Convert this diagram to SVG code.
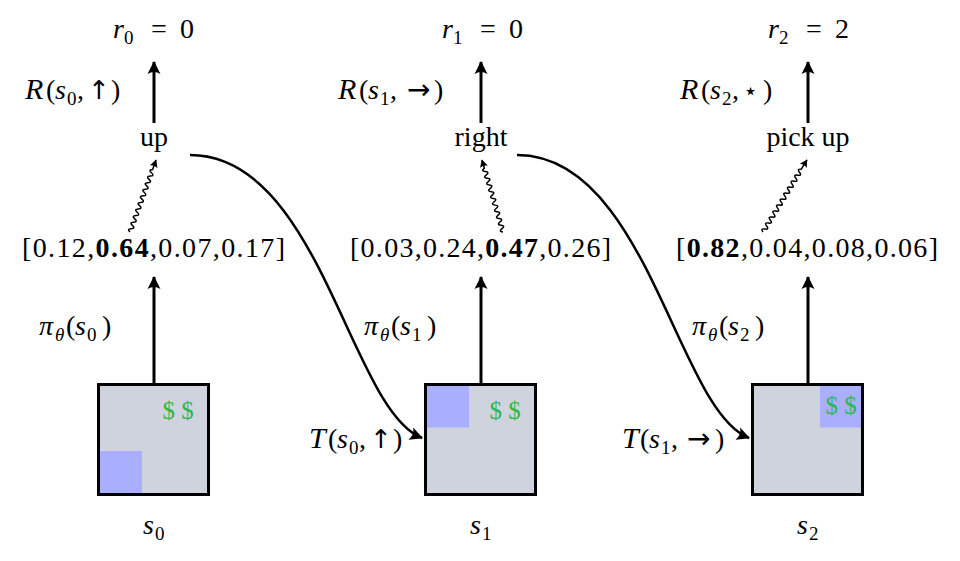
<svg xmlns="http://www.w3.org/2000/svg" width="960" height="561" viewBox="0 0 960 561">
<style>
text{font-family:"Liberation Serif","DejaVu Serif",serif;font-size:28px;fill:#000}
.it{font-style:italic}
.cal{font-style:italic;font-size:30px}
.b{font-weight:bold}
.sub{font-size:19px}
.sym{font-family:"DejaVu Sans",sans-serif;font-size:26px}
.rar{font-family:"DejaVu Sans",sans-serif;font-size:28px}
.star{font-family:"DejaVu Sans",sans-serif;font-size:24px}
.dol{font-size:25px;fill:#2cb84a}
.box{fill:#cfd3de;stroke:none}
.frame{fill:none;stroke:#000;stroke-width:3}
.agent{fill:#a9aefe}
.arr{fill:none;stroke:#000;stroke-width:3;marker-end:url(#ah)}
.curve{fill:none;stroke:#000;stroke-width:2.5;marker-end:url(#ah)}
.snake{fill:none;stroke:#000;stroke-width:1.5;marker-end:url(#sh)}
</style>
<defs>
<marker id="ah" markerUnits="userSpaceOnUse" viewBox="-14 -7 16 14" refX="0" refY="0" markerWidth="16" markerHeight="14" orient="auto">
<path d="M1,0 L-12,-6.5 Q-8,0 -12,6.5 Z" fill="#000"/>
</marker>
<marker id="sh" markerUnits="userSpaceOnUse" viewBox="-9 -5 10 10" refX="0" refY="0" markerWidth="10" markerHeight="10" orient="auto">
<path d="M0.5,0 L-7,-4 Q-5,0 -7,4 Z" fill="#000"/>
</marker>
</defs>

<g id="connectors">
<line class="arr" x1="154" y1="383" x2="154" y2="277"/>
<line class="arr" x1="154" y1="123" x2="154" y2="62"/>
<line class="arr" x1="481" y1="383" x2="481" y2="277"/>
<line class="arr" x1="481" y1="123" x2="481" y2="62"/>
<line class="arr" x1="808" y1="383" x2="808" y2="277"/>
<line class="arr" x1="808" y1="123" x2="808" y2="62"/>
<path class="curve" d="M190,155 C320,155 350,410 422,438"/>
<path class="curve" d="M517,155 C647,155 677,410 749,438"/>
<path class="snake" transform="translate(130,232) rotate(-70.1)" d="M0,0 q1.75,-4.4 3.5,0 t3.5,0 t3.5,0 t3.5,0 t3.5,0 t3.5,0 t3.5,0 t3.5,0 t3.5,0 t3.5,0 t3.5,0 t3.5,0 t3.5,0 t3.5,0 t3.5,0 t3.5,0 t3.5,0 t3.5,0 t3.5,0 l10,0"/>
<path class="snake" transform="translate(503,232) rotate(-106.3)" d="M0,0 q1.75,-4.4 3.5,0 t3.5,0 t3.5,0 t3.5,0 t3.5,0 t3.5,0 t3.5,0 t3.5,0 t3.5,0 t3.5,0 t3.5,0 t3.5,0 t3.5,0 t3.5,0 t3.5,0 t3.5,0 t3.5,0 t3.5,0 t3.5,0 l8.5,0"/>
<path class="snake" transform="translate(763,232) rotate(-58.6)" d="M0,0 q1.75,-4.4 3.5,0 t3.5,0 t3.5,0 t3.5,0 t3.5,0 t3.5,0 t3.5,0 t3.5,0 t3.5,0 t3.5,0 t3.5,0 t3.5,0 t3.5,0 t3.5,0 t3.5,0 t3.5,0 t3.5,0 t3.5,0 t3.5,0 t3.5,0 t3.5,0 l10.9,0"/>
</g>

<g id="state0">
<rect class="box" x="98.5" y="384.5" width="110" height="110"/>
<rect class="agent" x="98.5" y="451" width="43.5" height="43.5"/>
<text class="dol" x="178" y="419" text-anchor="middle">$ $</text>
<rect class="frame" x="98.5" y="384.5" width="110" height="110"/>
<text y="534"><tspan class="it" x="143">s</tspan><tspan class="sub" x="155" y="540">0</tspan></text>
</g>
<g id="state1">
<rect class="box" x="425.5" y="384.5" width="110" height="110"/>
<rect class="agent" x="425.5" y="384.5" width="43.5" height="43"/>
<text class="dol" x="505" y="419" text-anchor="middle">$ $</text>
<rect class="frame" x="425.5" y="384.5" width="110" height="110"/>
<text y="534"><tspan class="it" x="470">s</tspan><tspan class="sub" x="482" y="540">1</tspan></text>
</g>
<g id="state2">
<rect class="box" x="752.5" y="384.5" width="110" height="110"/>
<rect class="agent" x="820" y="384.5" width="42.5" height="43"/>
<text class="dol" x="841" y="414" text-anchor="middle">$ $</text>
<rect class="frame" x="752.5" y="384.5" width="110" height="110"/>
<text y="534"><tspan class="it" x="797">s</tspan><tspan class="sub" x="809" y="540">2</tspan></text>
</g>

<g id="policy0">
<text y="335"><tspan class="it" x="39">π</tspan><tspan class="sub it" x="55" y="341">θ</tspan><tspan x="66" y="335">(</tspan><tspan class="it" x="75">s</tspan><tspan class="sub" x="87" y="341">0</tspan><tspan x="102" y="335">)</tspan></text>
</g>
<g id="policy1">
<text y="335"><tspan class="it" x="364">π</tspan><tspan class="sub it" x="380" y="341">θ</tspan><tspan x="391" y="335">(</tspan><tspan class="it" x="400">s</tspan><tspan class="sub" x="412" y="341">1</tspan><tspan x="427" y="335">)</tspan></text>
</g>
<g id="policy2">
<text y="335"><tspan class="it" x="692">π</tspan><tspan class="sub it" x="708" y="341">θ</tspan><tspan x="719" y="335">(</tspan><tspan class="it" x="728">s</tspan><tspan class="sub" x="740" y="341">2</tspan><tspan x="755" y="335">)</tspan></text>
</g>

<g id="probs0">
<text x="22" y="257" textLength="263" lengthAdjust="spacing">[0.12,<tspan class="b">0.64</tspan>,0.07,0.17]</text>
</g>
<g id="probs1">
<text x="350" y="257" textLength="261" lengthAdjust="spacing">[0.03,0.24,<tspan class="b">0.47</tspan>,0.26]</text>
</g>
<g id="probs2">
<text x="676" y="257" textLength="262" lengthAdjust="spacing">[<tspan class="b">0.82</tspan>,0.04,0.08,0.06]</text>
</g>

<g id="action0">
<text x="154" y="146" text-anchor="middle">up</text>
</g>
<g id="action1">
<text x="481" y="146" text-anchor="middle">right</text>
</g>
<g id="action2">
<text x="808" y="146" text-anchor="middle">pick up</text>
</g>

<g id="reward0">
<text y="99"><tspan class="cal" x="25">R</tspan><tspan x="46">(</tspan><tspan class="it" x="55">s</tspan><tspan class="sub" x="67" y="105">0</tspan><tspan x="77" y="99">,</tspan><tspan class="sym" x="88">↑</tspan><tspan x="111">)</tspan></text>
<text y="38"><tspan class="it" x="113">r</tspan><tspan class="sub" x="124" y="44">0</tspan><tspan x="151" y="38">=</tspan><tspan x="180">0</tspan></text>
</g>
<g id="reward1">
<text y="99"><tspan class="cal" x="338">R</tspan><tspan x="359">(</tspan><tspan class="it" x="368">s</tspan><tspan class="sub" x="380" y="105">1</tspan><tspan x="390" y="99">,</tspan><tspan class="rar" x="407">→</tspan><tspan x="434">)</tspan></text>
<text y="38"><tspan class="it" x="442">r</tspan><tspan class="sub" x="453" y="44">1</tspan><tspan x="480" y="38">=</tspan><tspan x="509">0</tspan></text>
</g>
<g id="reward2">
<text y="99"><tspan class="cal" x="680">R</tspan><tspan x="701">(</tspan><tspan class="it" x="710">s</tspan><tspan class="sub" x="722" y="105">2</tspan><tspan x="732" y="99">,</tspan><tspan class="star" x="743">⋆</tspan><tspan x="763">)</tspan></text>
<text y="38"><tspan class="it" x="768">r</tspan><tspan class="sub" x="779" y="44">2</tspan><tspan x="806" y="38">=</tspan><tspan x="835">2</tspan></text>
</g>

<g id="transition1">
<text y="448"><tspan class="cal" x="309">T</tspan><tspan x="328">(</tspan><tspan class="it" x="337">s</tspan><tspan class="sub" x="349" y="454">0</tspan><tspan x="359" y="448">,</tspan><tspan class="sym" x="370">↑</tspan><tspan x="393">)</tspan></text>
</g>
<g id="transition2">
<text y="448"><tspan class="cal" x="622">T</tspan><tspan x="640">(</tspan><tspan class="it" x="649">s</tspan><tspan class="sub" x="661" y="454">1</tspan><tspan x="671" y="448">,</tspan><tspan class="rar" x="687">→</tspan><tspan x="715">)</tspan></text>
</g>
</svg>
